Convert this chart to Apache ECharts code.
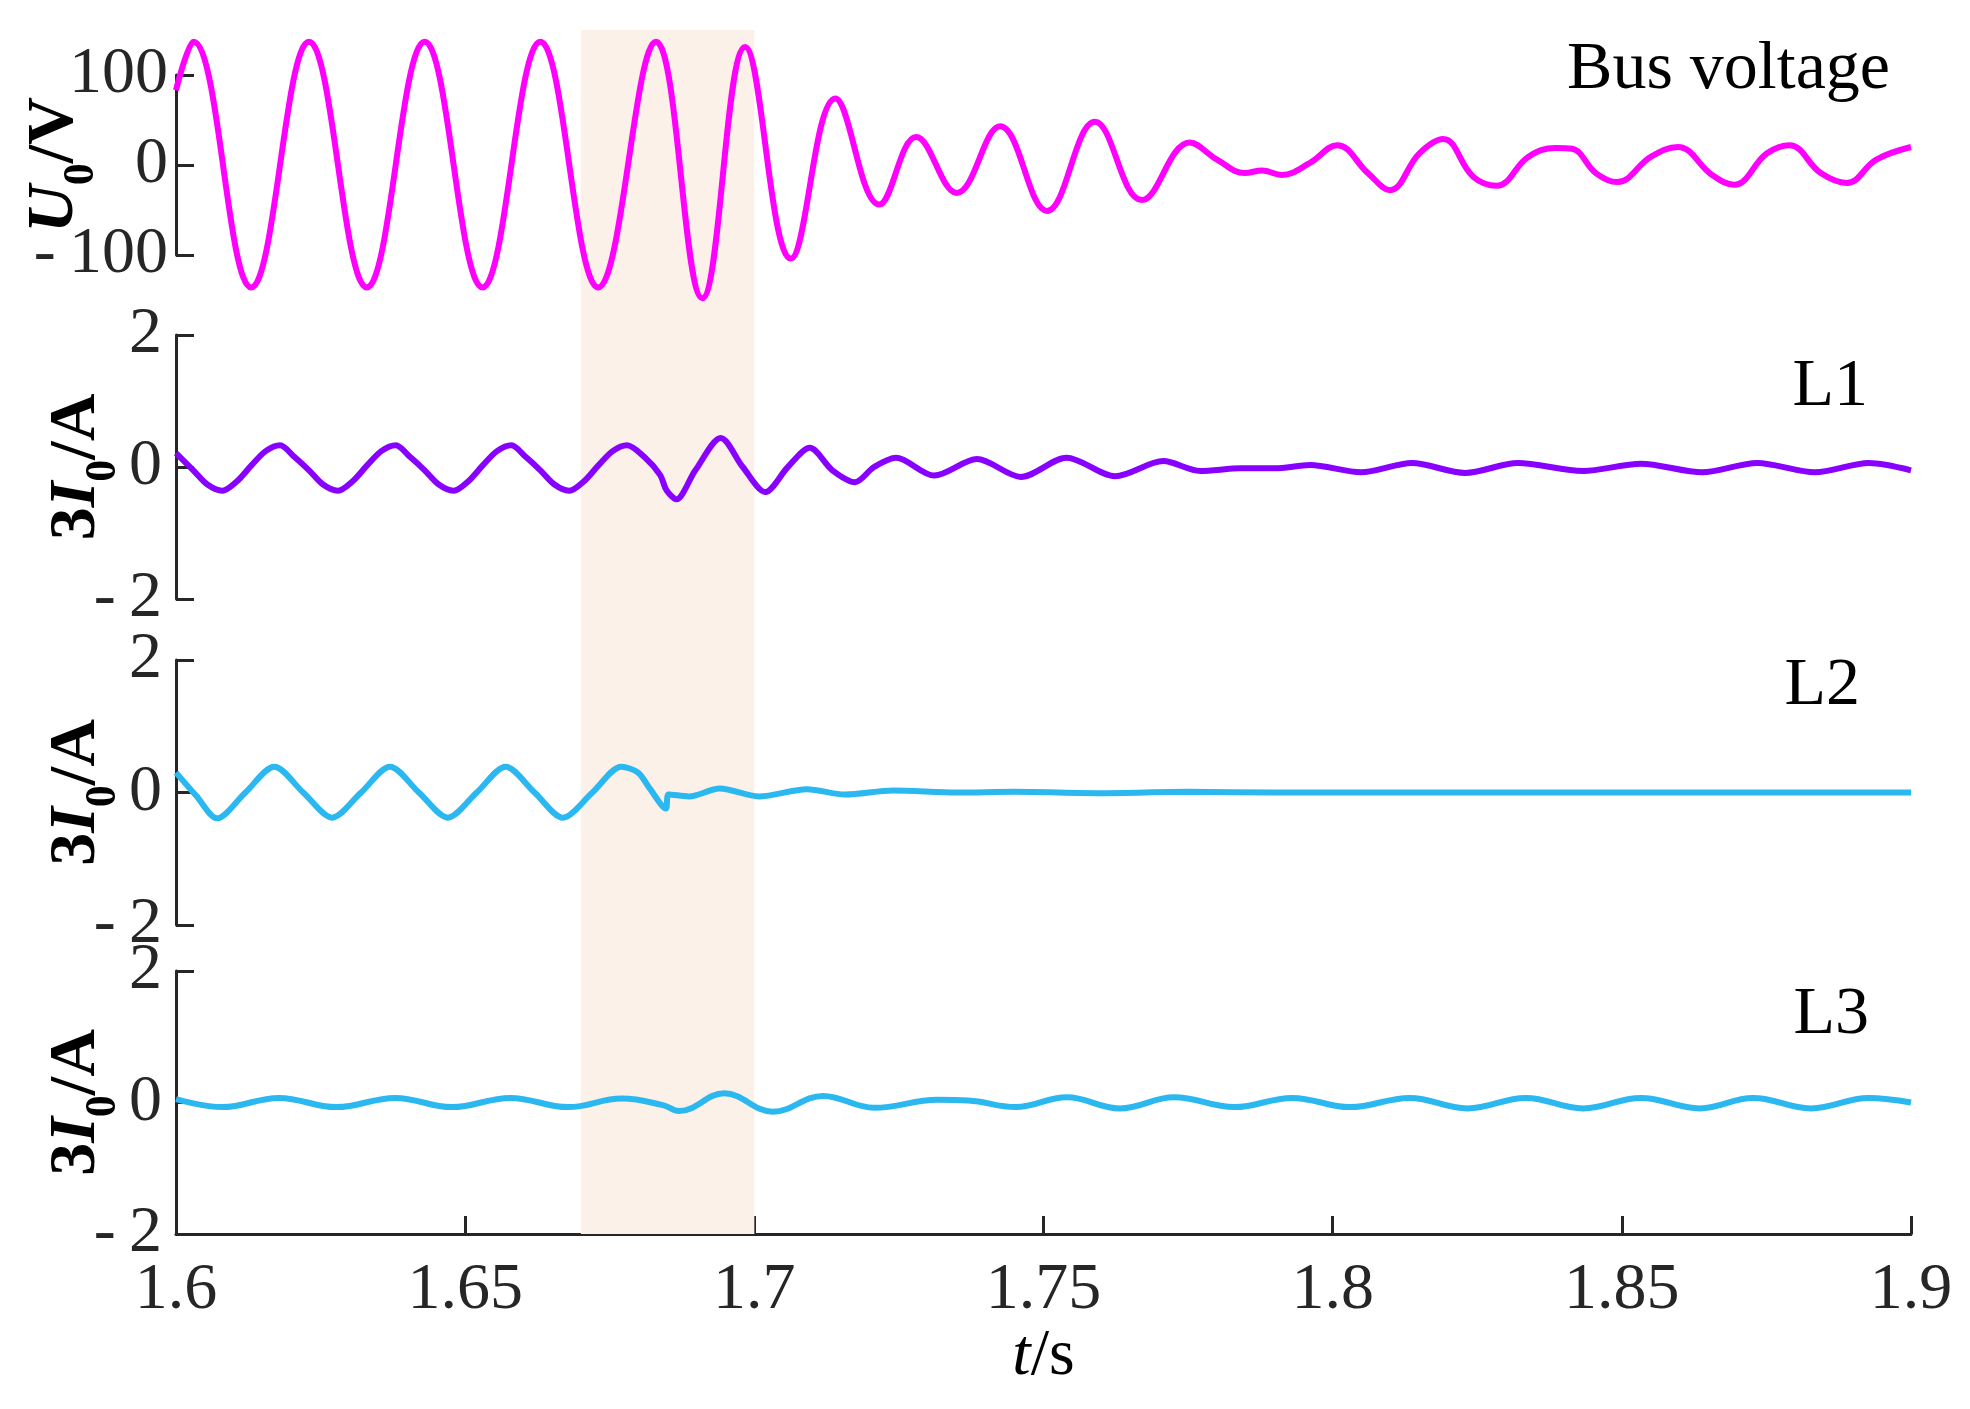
<!DOCTYPE html>
<html>
<head>
<meta charset="utf-8">
<script src="https://cdn.jsdelivr.net/npm/echarts@6/dist/echarts.min.js"></script>
<style>
  html, body { margin: 0; padding: 0; background: #fff; }
  #main { width: 1970px; height: 1409px; }
</style>
</head>
<body>
<div id="main"></div>
<script>
// time axis
var tMin = 1.6, tMax = 1.9, tStep = 0.05;
var shadeSpan = [1.67, 1.7];

// bus voltage U0 (V)
var busT = [1.600, 1.603, 1.613, 1.623, 1.633, 1.643, 1.653, 1.663, 1.673, 1.683, 1.691, 1.6984,
  1.7063, 1.714, 1.7216, 1.728, 1.735, 1.7425, 1.7506, 1.7589, 1.767, 1.7753, 1.780, 1.7848,
  1.7878, 1.7912, 1.796, 1.8008, 1.8061, 1.8099, 1.815, 1.8191, 1.8243, 1.8284, 1.8338, 1.8385,
  1.8414, 1.8455, 1.8492, 1.855, 1.8597, 1.8656, 1.8694, 1.8751, 1.879, 1.8844, 1.8889, 1.894, 1.900];
var busV = [83, 137, -136, 137, -136, 137, -136, 137, -136, 137, -148, 131,
  -104, 74, -44, 31, -31, 43, -51, 48, -39, 25, 6, -9,
  -6, -11, 2, 22, -9, -28, 13, 29, -13, -23, 9, 19,
  18, -9, -19, 9, 20, -11, -22, 13, 22, -9, -20, 6, 20];

// line L1 3I0 (A)
var l1T = [1.600, 1.603, 1.6055, 1.608, 1.6105, 1.613, 1.6155, 1.618, 1.6205, 1.623, 1.6255, 1.628,
  1.6305, 1.633, 1.6355, 1.638, 1.6405, 1.643, 1.6455, 1.648, 1.6505, 1.653, 1.6555, 1.658,
  1.6605, 1.663, 1.6655, 1.668, 1.6705, 1.673, 1.6755, 1.678, 1.681, 1.6837, 1.6848, 1.6865,
  1.6898, 1.6942, 1.698, 1.7019, 1.7058, 1.7096, 1.7135, 1.7174, 1.7207, 1.7245, 1.7311, 1.7385,
  1.7461, 1.754, 1.7624, 1.7707, 1.7771, 1.7841, 1.790, 1.7961, 1.8049, 1.8137, 1.8229, 1.832,
  1.8433, 1.8533, 1.8639, 1.8734, 1.8834, 1.8927, 1.900];
var l1V = [0.21, -0.05, -0.27, -0.36, -0.22, 0.02, 0.24, 0.33, 0.15, -0.05, -0.27, -0.36,
  -0.22, 0.02, 0.24, 0.33, 0.15, -0.05, -0.27, -0.36, -0.22, 0.02, 0.24, 0.33,
  0.15, -0.05, -0.27, -0.36, -0.22, 0.02, 0.24, 0.33, 0.15, -0.12, -0.35, -0.49,
  -0.05, 0.44, 0.0, -0.38, 0.0, 0.29, -0.05, -0.23, 0.0, 0.14, -0.13, 0.12,
  -0.15, 0.14, -0.14, 0.09, -0.06, -0.02, -0.02, 0.03, -0.08, 0.06, -0.09, 0.06,
  -0.06, 0.05, -0.08, 0.06, -0.08, 0.06, -0.05];

// line L2 3I0 (A)
var l2T = [1.600, 1.6035, 1.6071, 1.612, 1.617, 1.622, 1.627, 1.632, 1.637, 1.642, 1.647, 1.652,
  1.657, 1.662, 1.6669, 1.672, 1.677, 1.6799, 1.682, 1.6847, 1.6852, 1.6887, 1.694, 1.7008,
  1.7091, 1.7157, 1.724, 1.735, 1.745, 1.760, 1.775, 1.790, 1.900];
var l2V = [0.30, -0.05, -0.39, 0.0, 0.39, 0.0, -0.38, 0.0, 0.39, 0.0, -0.38, 0.0,
  0.39, 0.0, -0.38, 0.0, 0.39, 0.30, 0.05, -0.24, -0.03, -0.06, 0.06, -0.06,
  0.05, -0.03, 0.03, 0.0, 0.01, -0.01, 0.01, 0.0, 0.0];

// line L3 3I0 (A)
var l3T = [1.600, 1.608, 1.6178, 1.6277, 1.6379, 1.6477, 1.6578, 1.6678, 1.6771, 1.6842, 1.687,
  1.6948, 1.7032, 1.7119, 1.7207, 1.7317, 1.737, 1.7452, 1.754, 1.7632, 1.7726, 1.783, 1.793,
  1.803, 1.8133, 1.8233, 1.8334, 1.8433, 1.8533, 1.8635, 1.8727, 1.8827, 1.8927, 1.900];
var l3V = [0.05, -0.07, 0.07, -0.07, 0.07, -0.07, 0.07, -0.07, 0.06, -0.04, -0.13,
  0.14, -0.14, 0.10, -0.08, 0.04, 0.03, -0.07, 0.08, -0.09, 0.08, -0.07, 0.07,
  -0.07, 0.07, -0.09, 0.07, -0.09, 0.07, -0.09, 0.07, -0.09, 0.07, 0.0];

var busTicks = [-100, 100, 100];   // min, max, interval
var curTicks = [-2, 2, 2];
var panelNames = ['Bus voltage', 'L1', 'L2', 'L3'];

var serif = '"Liberation Serif", "Times New Roman", serif';
var axisColor = '#262626';

function zip(t, v) {
  var out = [];
  for (var i = 0; i < t.length; i++) out.push([t[i], v[i]]);
  return out;
}

function tickFmt(v) {
  return v < 0 ? '-\u2009' + Math.abs(v) : String(v);
}

var nameRich = {
  i: {fontFamily: serif, fontSize: 66, fontStyle: 'italic', fontWeight: 'bold', color: '#000', lineHeight: 70},
  n: {fontFamily: serif, fontSize: 66, fontWeight: 'bold', color: '#000', lineHeight: 70},
  s: {fontFamily: serif, fontSize: 44, fontWeight: 'bold', color: '#000', lineHeight: 70, verticalAlign: 'bottom', padding: [0, 0, -14, 0]}
};

function yAxisOf(idx, ticks, name, gap, margin) {
  return {
    gridIndex: idx, type: 'value', min: ticks[0], max: ticks[1], interval: ticks[2],
    name: name, nameLocation: 'middle', nameRotate: 90, nameGap: gap, nameMoveOverlap: false,
    nameTextStyle: {rich: nameRich},
    axisLine: {show: true, onZero: false, lineStyle: {color: axisColor, width: 3}},
    axisTick: {show: true, inside: true, length: 18, lineStyle: {color: axisColor, width: 3}},
    axisLabel: {fontFamily: serif, fontSize: 66, color: axisColor, margin: margin, formatter: tickFmt},
    splitLine: {show: false}
  };
}

function xAxisOf(idx, visible) {
  return {
    gridIndex: idx, type: 'value', min: tMin, max: tMax, interval: tStep, show: visible,
    name: visible ? '{i|t}{n|/s}' : '', nameLocation: 'middle', nameGap: 90, nameMoveOverlap: false,
    nameTextStyle: {rich: {
      i: {fontFamily: serif, fontSize: 66, fontStyle: 'italic', color: '#000'},
      n: {fontFamily: serif, fontSize: 66, color: '#000'}
    }},
    axisLine: {show: visible, onZero: false, lineStyle: {color: axisColor, width: 3}},
    axisTick: {show: visible, inside: true, length: 18, lineStyle: {color: axisColor, width: 3}},
    axisLabel: {show: visible, fontFamily: serif, fontSize: 66, color: axisColor, margin: 24,
      formatter: function (v) { return String(Math.round(v * 100) / 100); }},
    splitLine: {show: false}
  };
}

function lineSeries(idx, t, v, color, smooth) {
  return {
    type: 'line', xAxisIndex: idx, yAxisIndex: idx, data: zip(t, v),
    showSymbol: false, smooth: smooth, clip: false, z: 5,
    lineStyle: {color: color, width: 6}
  };
}

function gridAt(top, height) {
  return {left: 176, right: 59, top: top, height: height, containLabel: false, outerBoundsMode: 'none'};
}

function panelText(x, y, text) {
  return {type: 'text', x: x, y: y, style: {text: text, font: '68px ' + serif, fill: '#000', align: 'right', verticalAlign: 'middle'}};
}

var chart = echarts.init(document.getElementById('main'));
var option = {
  animation: false,
  backgroundColor: '#fff',
  grid: [gridAt(75, 180), gridAt(335, 264), gridAt(660, 265), gridAt(971, 263), gridAt(30, 1204)],
  xAxis: [xAxisOf(0, false), xAxisOf(1, false), xAxisOf(2, false), xAxisOf(3, true), xAxisOf(4, false)],
  yAxis: [
    yAxisOf(0, busTicks, '{i|U}{s|0}{n|/V}', 86, 8),
    yAxisOf(1, curTicks, '{n|3}{i|I}{s|0}{n|/A}', 64, 14),
    yAxisOf(2, curTicks, '{n|3}{i|I}{s|0}{n|/A}', 64, 14),
    yAxisOf(3, curTicks, '{n|3}{i|I}{s|0}{n|/A}', 64, 14),
    {gridIndex: 4, type: 'value', min: 0, max: 1, show: false}
  ],
  series: [
    {
      type: 'line', xAxisIndex: 4, yAxisIndex: 4, data: [], z: 0, silent: true,
      markArea: {silent: true, itemStyle: {color: '#FCF1E8'},
        data: [[{xAxis: shadeSpan[0]}, {xAxis: shadeSpan[1]}]]}
    },
    lineSeries(0, busT, busV, '#FF00FF', 0.4),
    lineSeries(1, l1T, l1V, '#8800FF', 0.3),
    lineSeries(2, l2T, l2V, '#2BB8F0', 0.3),
    lineSeries(3, l3T, l3V, '#2BB8F0', 0.4)
  ],
  graphic: [
    panelText(1890, 70, panelNames[0]),
    panelText(1868, 387, panelNames[1]),
    panelText(1860, 686, panelNames[2]),
    panelText(1869, 1015, panelNames[3])
  ]
};
chart.setOption(option);
</script>
</body>
</html>
